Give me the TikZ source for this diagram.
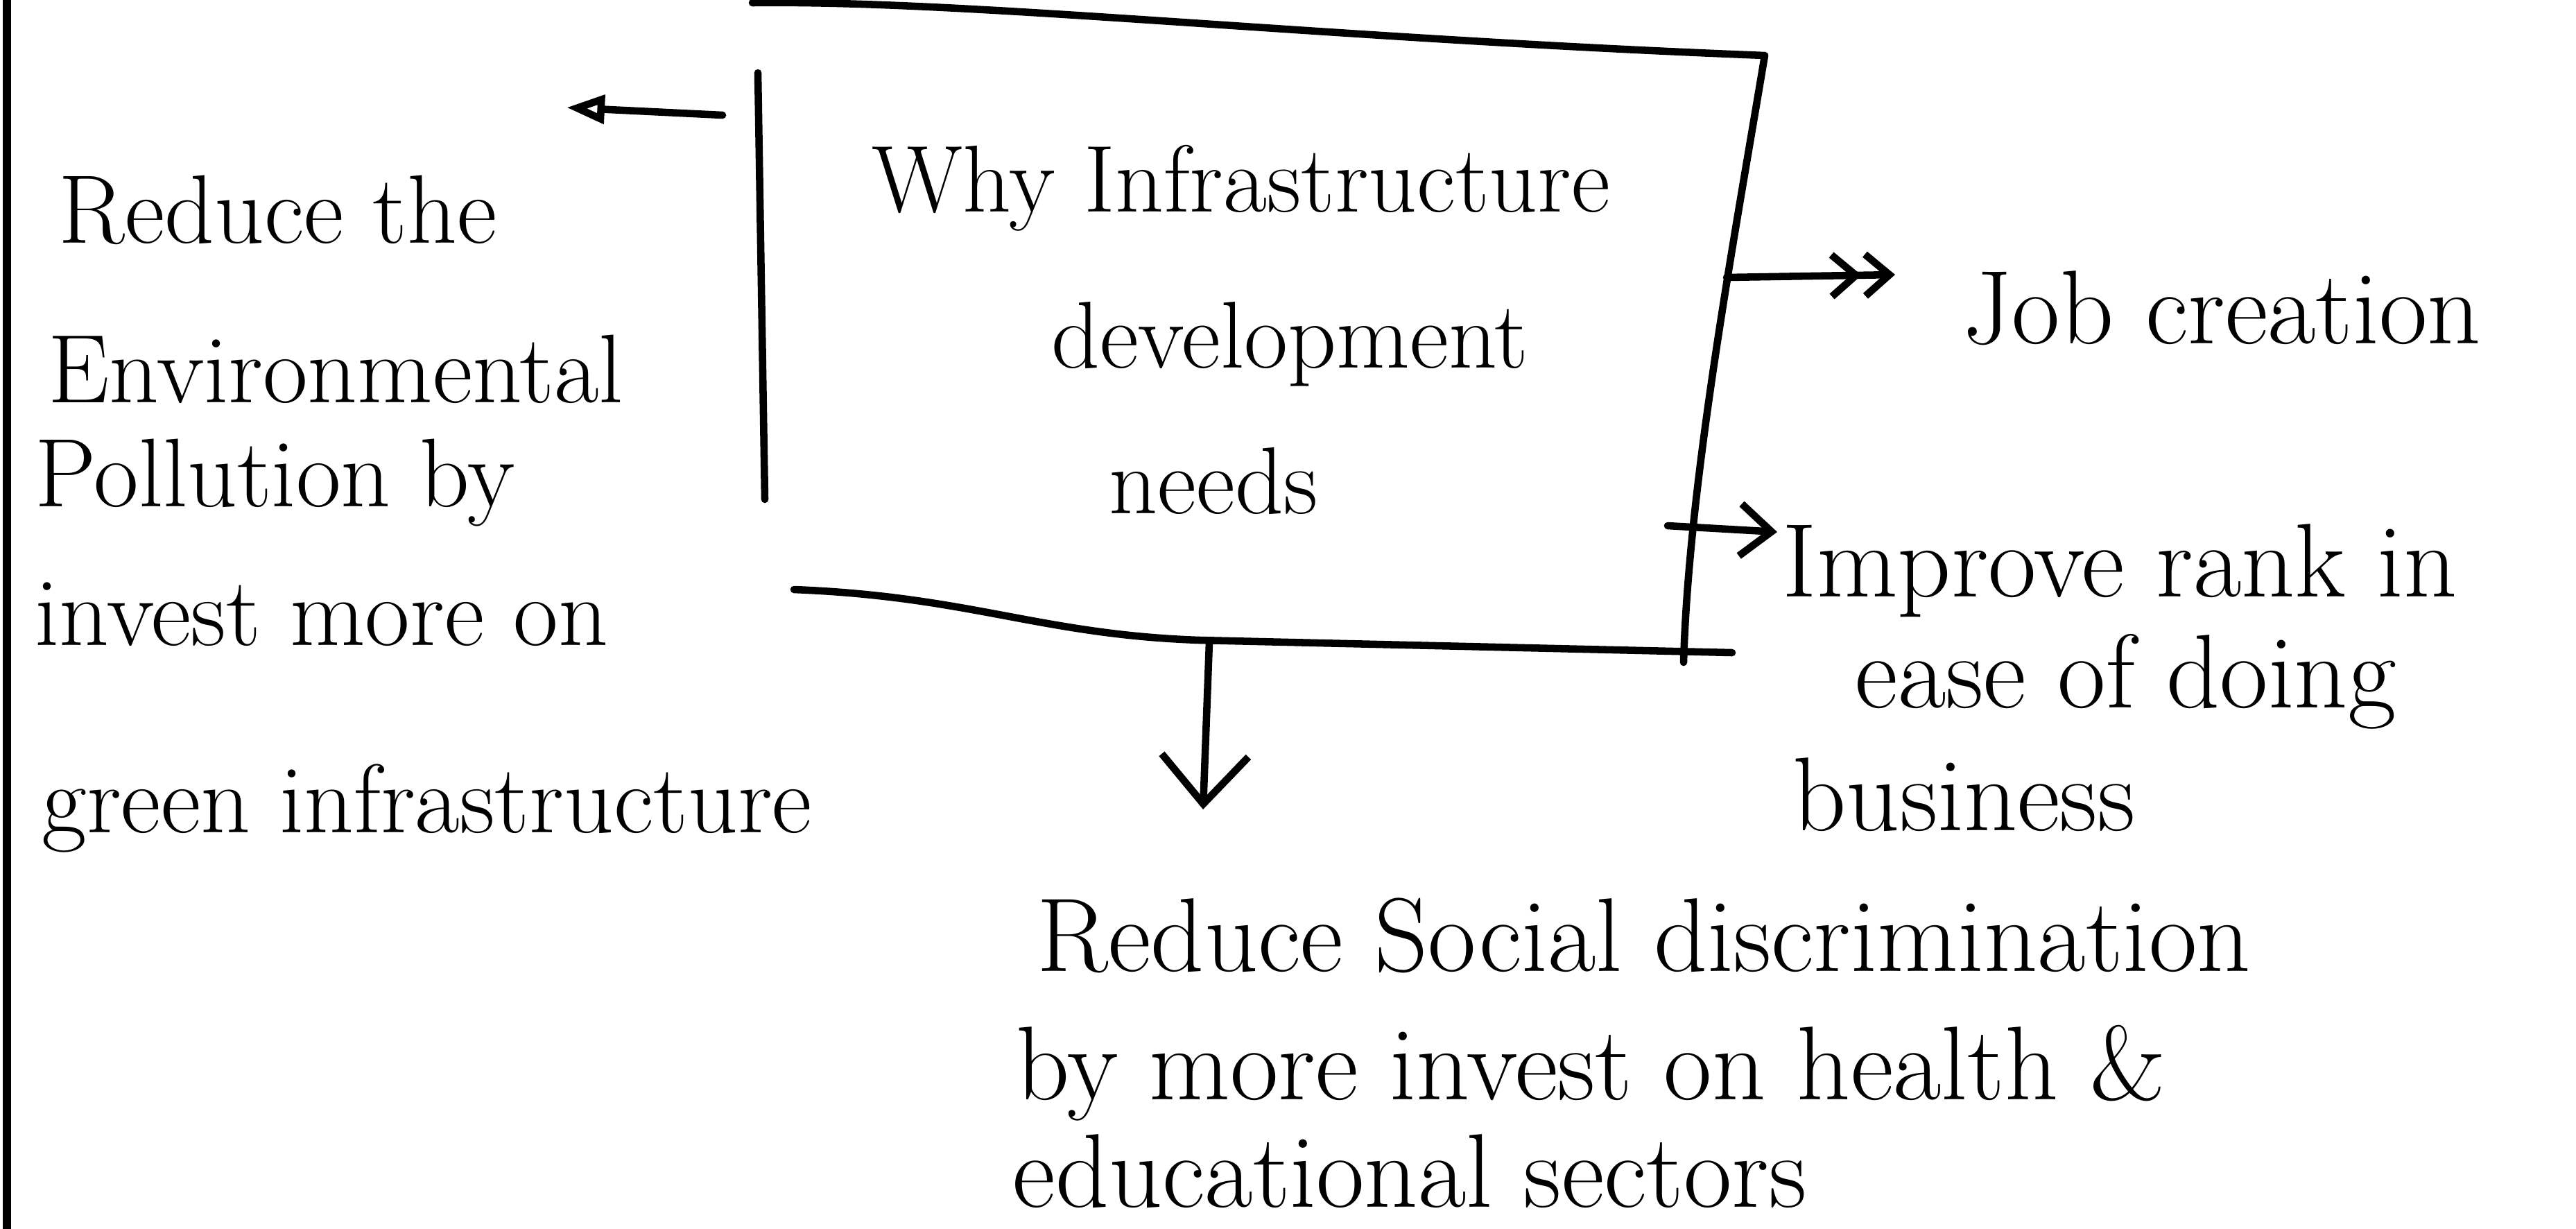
\documentclass[tikz,border=0pt]{standalone}
\usetikzlibrary{arrows.meta}
\begin{document}
\begin{tikzpicture}[pen/.style={line width=3pt, line cap=round, line join=round},
        boxtext/.style={inner sep=0pt, anchor=base, font=\fontsize{39}{43}\selectfont},
        lefttext/.style={inner sep=0pt, anchor=base west, font=\fontsize{40}{44}\selectfont},
        righttext/.style={inner sep=0pt, anchor=base west, font=\fontsize{43}{47}\selectfont},
        downtext/.style={inner sep=0pt, anchor=base west, font=\fontsize{43}{47}\selectfont}]
        \useasboundingbox (0,0) rectangle (37.15,-17.71);
        \draw[pen, line width=3.5pt] (0.1,0.1) -- (0.1,-17.8);
        \draw[pen] (10.85,-0.04) .. controls (14,0) and (19,-0.55) .. (25.45,-0.8);
        \draw[pen] (25.45,-0.8) .. controls (25.0,-3.5) and (24.35,-7.0) .. (24.28,-9.55);
        \draw[pen] (10.93,-1.05) -- (11.03,-7.2);
        \draw[pen] (11.45,-8.5) .. controls (14.0,-8.6) and (15.0,-9.15) .. (17.3,-9.23) -- (24.98,-9.41);
        \node[boxtext] (why1) at (17.9,-3.05) {Why Infrastructure};
        \node[boxtext] (why2) at (18.6,-5.3) {development};
        \node[boxtext] (why3) at (17.5,-7.4) {needs};
        \node[lefttext] (env1) at (0.84,-3.5) {Reduce the};
        \node[lefttext] (env2) at (0.69,-5.8) {Environmental};
        \node[lefttext] (env3) at (0.5,-7.3) {Pollution by};
        \node[lefttext] (env4) at (0.5,-9.3) {invest more on};
        \node[lefttext] (env5) at (0.6,-12.0) {green infrastructure};
        \node[righttext] (job) at (28.3,-4.95) {Job creation};
        \node[righttext] (rank1) at (25.7,-8.6) {Improve rank in};
        \node[righttext] (rank2) at (26.75,-10.2) {ease of doing};
        \node[righttext] (rank3) at (25.85,-11.97) {business};
        \node[downtext] (soc1) at (14.95,-14.0) {Reduce Social discrimination};
        \node[downtext] (soc2) at (14.65,-15.85) {by more invest on health \&};
        \node[downtext] (soc3) at (14.6,-17.4) {educational sectors};
        \coordinate (boxW) at (10.42,-1.66);
        \coordinate (envTip) at (8.17,-1.55);
        \coordinate (boxE1) at (24.9,-4.0);
        \coordinate (jobTip) at (27.33,-3.96);
        \coordinate (boxE2) at (24.05,-7.58);
        \coordinate (rankTip) at (25.63,-7.67);
        \coordinate (boxS) at (17.44,-9.26);
        \coordinate (socTip) at (17.35,-11.67);
        \draw[pen, -{Triangle[open, length=0.55cm, width=0.4cm]}] (boxW) -- (envTip);
        \draw[pen, -{Straight Barb[length=0.35cm, width=0.6cm] Straight Barb[length=0.35cm, width=0.6cm]}] (boxE1) -- (jobTip);
        \draw[pen, -{Straight Barb[length=0.45cm, width=0.75cm]}] (boxE2) -- (rankTip);
        \draw[pen, -{Straight Barb[length=0.7cm, width=1.25cm]}] (boxS) -- (socTip);
    \end{tikzpicture}
\end{document}
